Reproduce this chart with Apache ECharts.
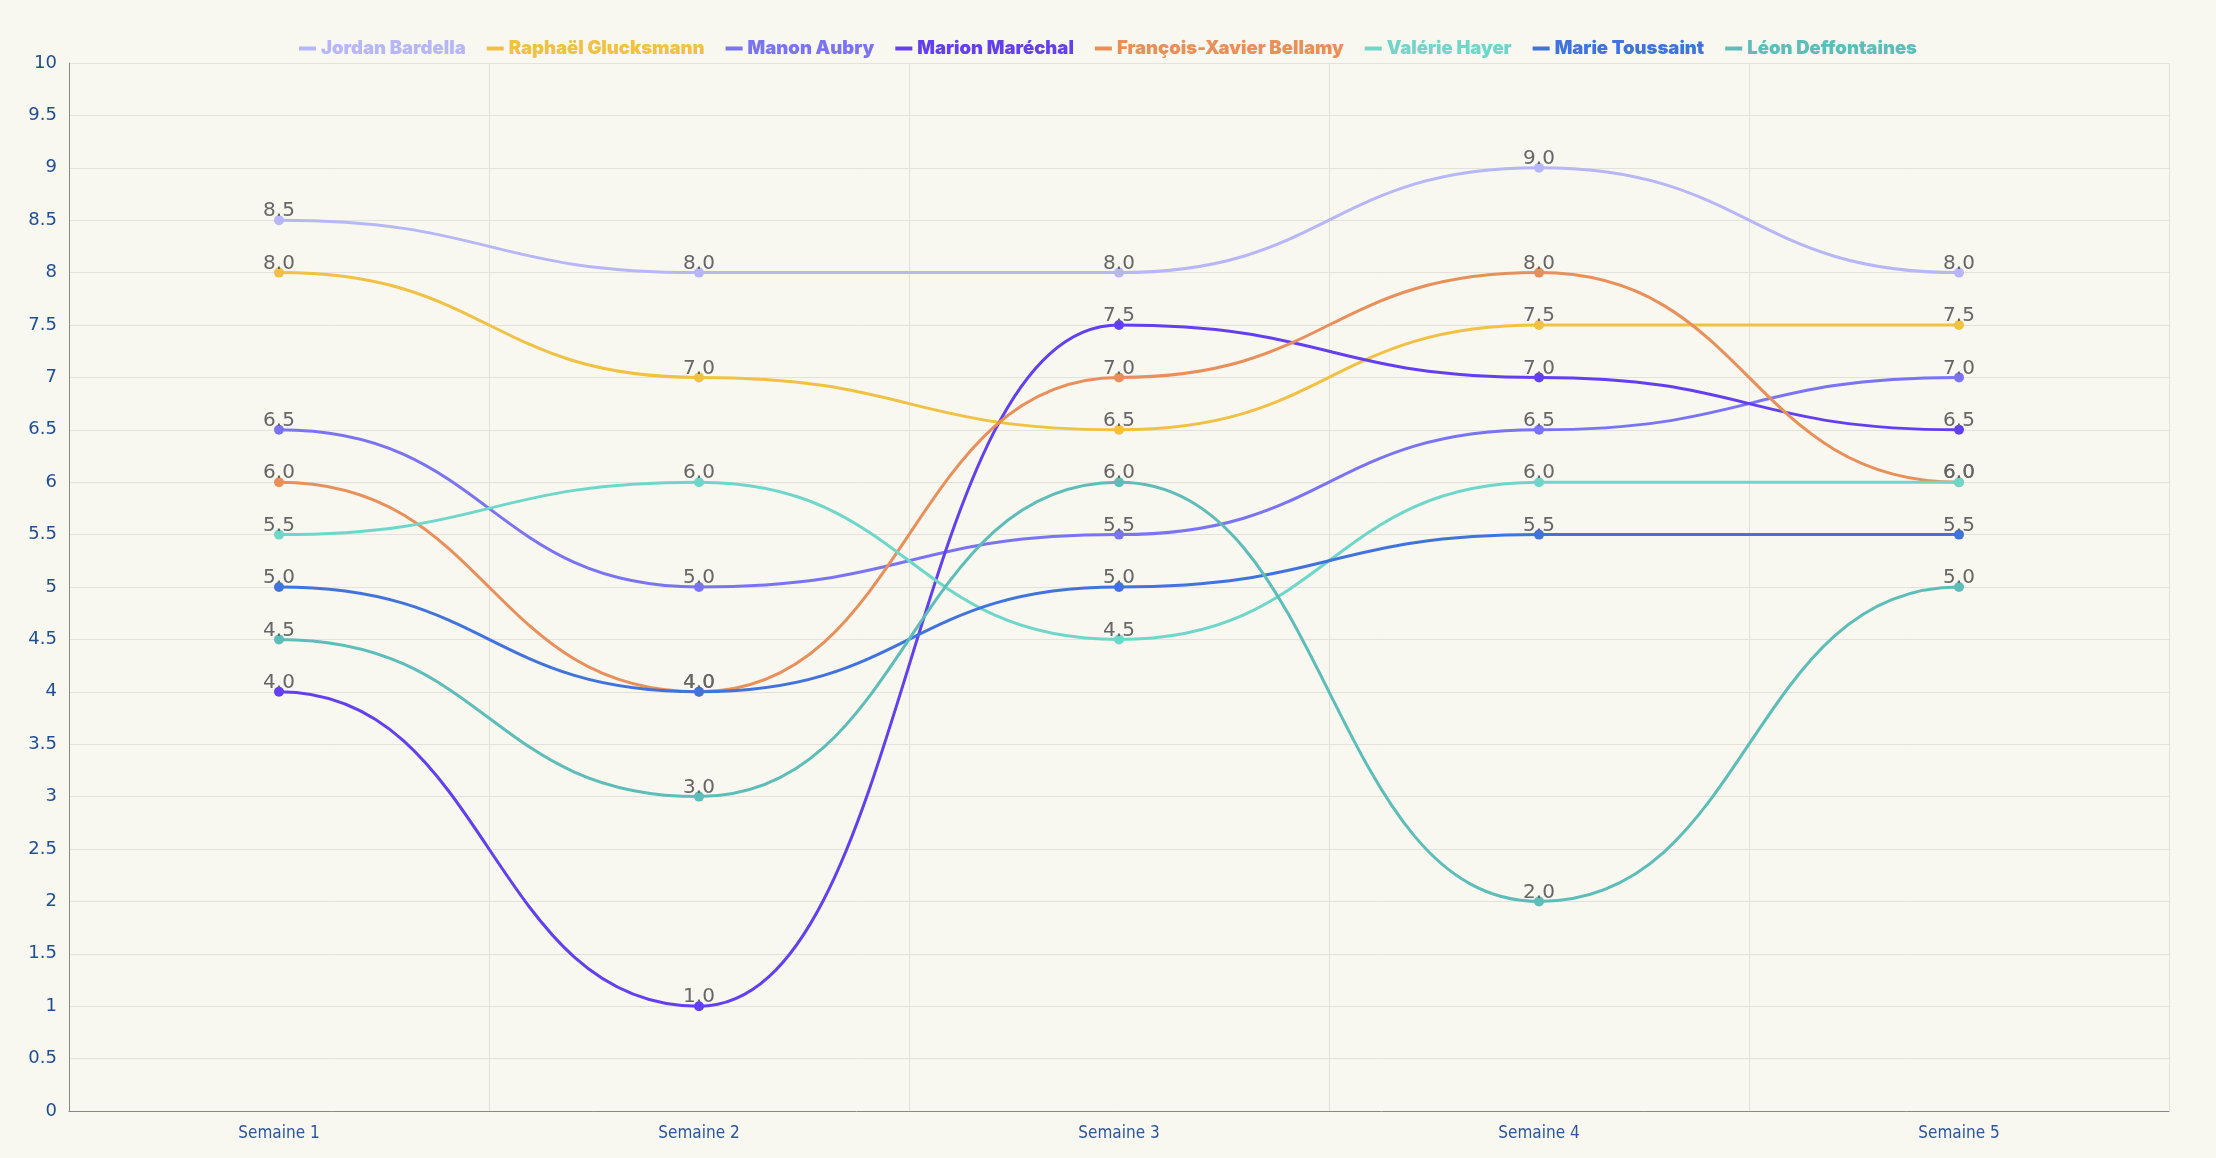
<!DOCTYPE html>
<html><head><meta charset="utf-8">
<script src="https://cdn.jsdelivr.net/npm/echarts@6/dist/echarts.min.js"></script>
<style>html,body{margin:0;padding:0;background:#f8f7f0}#c{width:2216px;height:1158px}</style>
</head><body><div id="c"></div>
<script>
const categories = ['Semaine 1','Semaine 2','Semaine 3','Semaine 4','Semaine 5'];
const names = ['Jordan Bardella','Raphaël Glucksmann','Manon Aubry','Marion Maréchal','François-Xavier Bellamy','Valérie Hayer','Marie Toussaint','Léon Deffontaines'];
const colors = ['#b7b6f7','#f0c142','#7a73f2','#6240f0','#e98f5a','#6fd7c9','#4173dd','#5dbdb9'];
const bardella = [8.5, 8, 8, 9, 8];
const glucksmann = [8, 7, 6.5, 7.5, 7.5];
const aubry = [6.5, 5, 5.5, 6.5, 7];
const marechal = [4, 1, 7.5, 7, 6.5];
const bellamy = [6, 4, 7, 8, 6];
const hayer = [5.5, 6, 4.5, 6, 6];
const toussaint = [5, 4, 5, 5.5, 5.5];
const deffontaines = [4.5, 3, 6, 2, 5];
const seriesData = [bardella, glucksmann, aubry, marechal, bellamy, hayer, toussaint, deffontaines];

const SMOOTH = 0.5;
function curveSeries(name, vals, color) {
  return {
    name: name,
    type: 'custom',
    z: 2,
    silent: true,
    data: vals.map((v, i) => [i, v]),
    encode: { x: 0, y: 1 },
    renderItem: function (params, api) {
      const i = params.dataIndex;
      if (i >= vals.length - 1) return null;
      const p0 = api.coord([i, vals[i]]);
      const p1 = api.coord([i + 1, vals[i + 1]]);
      const dx = p1[0] - p0[0];
      return {
        type: 'bezierCurve',
        shape: {
          x1: p0[0], y1: p0[1],
          cpx1: p0[0] + dx * SMOOTH, cpy1: p0[1],
          cpx2: p1[0] - dx * SMOOTH, cpy2: p1[1],
          x2: p1[0], y2: p1[1]
        },
        style: { stroke: color, lineWidth: 3, fill: null }
      };
    }
  };
}

const series = [];
names.forEach((n, i) => series.push(curveSeries(n, seriesData[i], colors[i])));
names.forEach((n, i) => series.push({
  name: n,
  type: 'line',
  z: 3,
  data: seriesData[i],
  symbol: 'circle',
  symbolSize: 10,
  itemStyle: { color: colors[i] },
  lineStyle: { width: 0, opacity: 0 },
  label: {
    show: true, position: 'top', distance: -6,
    color: '#666', fontSize: 20, fontFamily: 'DejaVu Sans, sans-serif',
    formatter: p => p.value.toFixed(1)
  }
}));

const chart = echarts.init(document.getElementById('c'));
chart.setOption({
  backgroundColor: '#f8f7f0',
  animation: false,
  color: colors,
  legend: {
    top: 34,
    left: 'center',
    icon: 'rect',
    itemWidth: 17,
    itemHeight: 4,
    itemGap: 21,
    data: names.map((n, i) => ({ name: n, itemStyle: { color: colors[i] }, textStyle: { color: colors[i] } })),
    textStyle: { fontSize: 18.5, fontWeight: 900, fontFamily: 'Inter, Roboto, sans-serif' }
  },
  grid: { left: 69, right: 47, top: 63, bottom: 47 },
  xAxis: {
    type: 'category',
    data: categories,
    boundaryGap: true,
    axisLine: { lineStyle: { color: '#888' } },
    axisTick: { alignWithLabel: true, lineStyle: { color: '#888' } },
    axisLabel: { color: '#2b559c', fontSize: 17, margin: 14, fontFamily: 'DejaVu Sans Condensed, Liberation Sans Narrow, sans-serif' },
    splitLine: { show: true, lineStyle: { color: '#e3e2da' } }
  },
  yAxis: {
    type: 'value',
    min: 0, max: 10, interval: 0.5,
    axisLine: { show: true, lineStyle: { color: '#888' } },
    axisTick: { show: false },
    axisLabel: { color: '#1f4e94', fontSize: 18, margin: 12, fontFamily: 'DejaVu Sans, sans-serif' },
    splitLine: { lineStyle: { color: '#e3e2da' } }
  },
  series: series
});
</script></body></html>
